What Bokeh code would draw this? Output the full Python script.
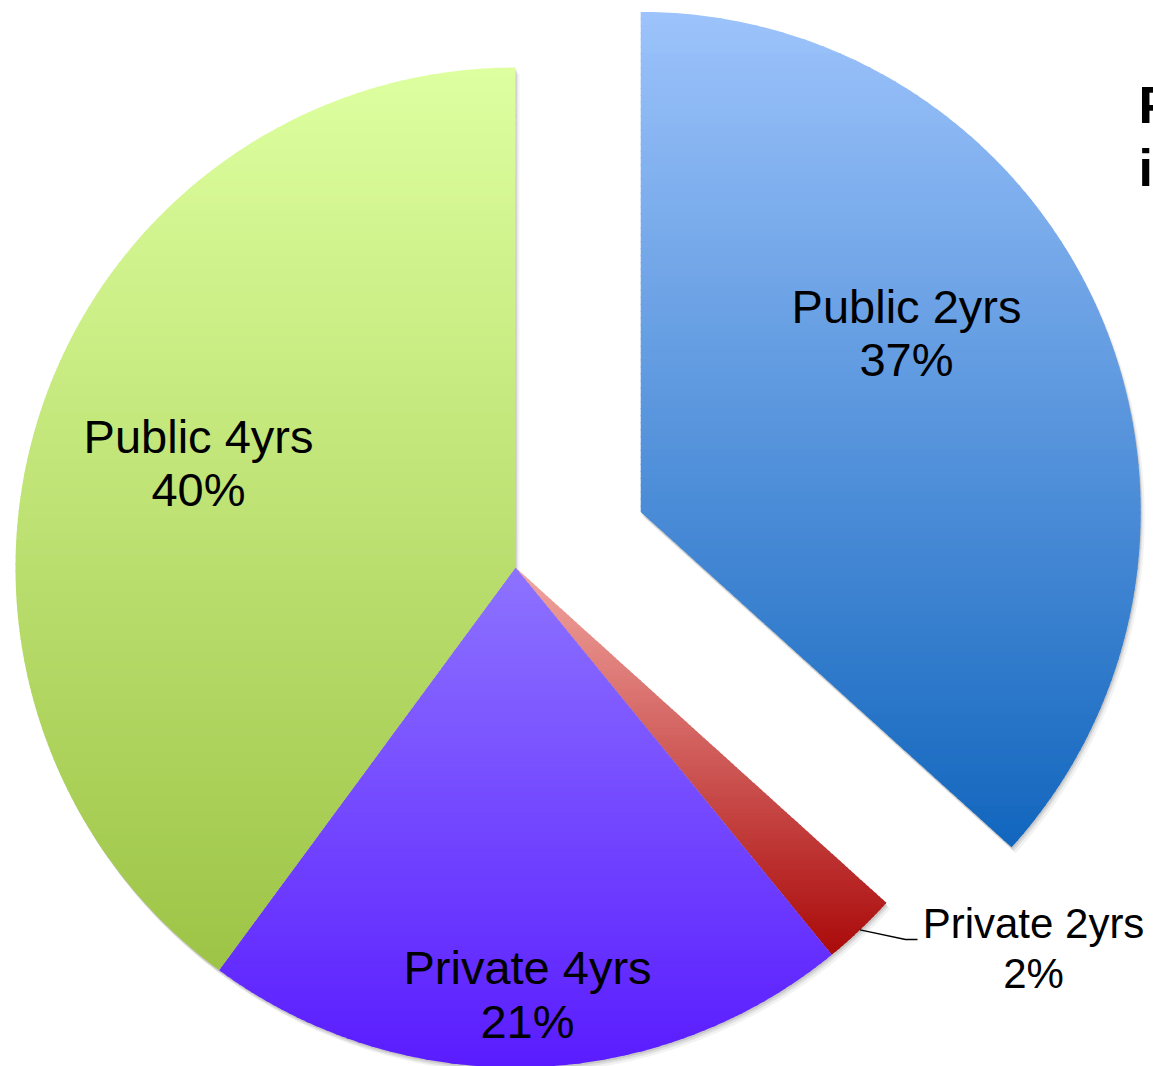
import math
import numpy as np
from bokeh.plotting import figure
from bokeh.models import Range1d
from bokeh.core.properties import value
from bokeh.embed import file_html
from bokeh.resources import INLINE

# ---- data (clockwise from 12 o'clock) ----
categories = ["Public 2yrs", "Private 2yrs", "Private 4yrs", "Public 4yrs"]
shares = [36.7, 2.4, 21.0, 39.9]
pct_labels = ["37%", "2%", "21%", "40%"]
explode = [137, 0, 0, 0]
top_colors = ["#9DC3FB", "#F2A7A2", "#8D73FF", "#DEFFA0"]
bottom_colors = ["#1266BE", "#AA0A0A", "#5A1CFF", "#9DC446"]

# ---- layout (pixel units, y up; screen y = H - y) ----
W, H = 1153, 1066
SH = 1066
CX, CY, R = 515, SH - 567, 500
label_font = "Liberation Sans"
label_sizes = [47, 42, 47, 47]
# (x centre, screen y of line-1 cap middle, screen y of line-2 cap middle)
label_pos = [(906, 306, 359), (1033, 923, 973), (527, 967, 1021), (198, 436, 489)]

p = figure(width=W, height=H, output_backend="svg", toolbar_location=None,
           x_range=Range1d(0, W), y_range=Range1d(0, H),
           min_border=0)
p.axis.visible = False
p.grid.visible = False
p.outline_line_color = None
p.background_fill_color = "white"
p.border_fill_color = "white"


def hex2rgb(h):
    h = h.lstrip("#")
    return [int(h[i:i + 2], 16) for i in (0, 2, 4)]


def mix(c1, c2, t):
    a, b = hex2rgb(c1), hex2rgb(c2)
    return "#%02x%02x%02x" % tuple(int(round(a[i] + (b[i] - a[i]) * t)) for i in range(3))


def clip(poly, y0, keep_above):
    out = []
    n = len(poly)
    for i in range(n):
        cur, nxt = poly[i], poly[(i + 1) % n]
        cin = cur[1] >= y0 if keep_above else cur[1] <= y0
        nin = nxt[1] >= y0 if keep_above else nxt[1] <= y0
        if cin:
            out.append(cur)
        if cin != nin:
            t = (y0 - cur[1]) / (nxt[1] - cur[1])
            out.append((cur[0] + t * (nxt[0] - cur[0]), y0))
    return out


total = sum(shares)
angle = 90.0
slices = []
for i, s in enumerate(shares):
    span = s / total * 360.0
    a0, a1 = angle - span, angle
    angle = a0
    mid = math.radians((a0 + a1) / 2)
    cx = CX + explode[i] * math.cos(mid)
    cy = CY + explode[i] * math.sin(mid)
    th = np.radians(np.linspace(a0, a1, 200))
    poly = [(cx, cy)] + [(cx + R * math.cos(t), cy + R * math.sin(t)) for t in th]
    slices.append((poly, mid, cx, cy))

# shadows
for poly, mid, cx, cy in slices:
    for dx, dy, al in [(1, -2, 0.10), (2, -4, 0.08), (4, -6, 0.05)]:
        p.patch([q[0] + dx for q in poly], [q[1] + dy for q in poly],
                fill_color="black", fill_alpha=al, line_color=None)

# gradient-filled slices
for i, (poly, mid, cx, cy) in enumerate(slices):
    ys = [q[1] for q in poly]
    ymin, ymax = min(ys), max(ys)
    nb = 120
    xs_l, ys_l, cols = [], [], []
    for b in range(nb):
        y_hi = ymax - (ymax - ymin) * b / nb
        y_lo = ymax - (ymax - ymin) * (b + 1) / nb
        part = clip(poly, y_lo - 0.6, True)
        part = clip(part, y_hi + 0.6, False) if part else []
        if len(part) < 3:
            continue
        xs_l.append([q[0] for q in part])
        ys_l.append([q[1] for q in part])
        cols.append(mix(top_colors[i], bottom_colors[i], (b + 0.5) / nb))
    p.patches(xs_l, ys_l, fill_color=cols, line_color=None)

# leader line for the small slice
poly, mid, cx, cy = slices[1]
sx, sy = cx + R * math.cos(mid), cy + R * math.sin(mid)
p.line([sx, 905, 917], [sy, SH - 939, SH - 939], line_color="black", line_width=1.3)

# labels
for i in range(len(categories)):
    x, b1, b2 = label_pos[i]
    fs = "%dpx" % label_sizes[i]
    p.text(x=[x], y=[SH - b1], text=[categories[i]], text_align="center",
           text_baseline="middle", text_font=value(label_font),
           text_font_size=fs, text_color="black")
    p.text(x=[x], y=[SH - b2], text=[pct_labels[i]], text_align="center",
           text_baseline="middle", text_font=value(label_font),
           text_font_size=fs, text_color="black")

# cut-off slide title at the right edge
p.text(x=[1138], y=[SH - 104], text=["P"], text_align="left", text_baseline="middle",
       text_font=value(label_font), text_font_style="bold", text_font_size="52px",
       text_color="black")
p.text(x=[1138], y=[SH - 167], text=["i"], text_align="left", text_baseline="middle",
       text_font=value(label_font), text_font_style="bold", text_font_size="52px",
       text_color="black")

open("out.html", "w").write(file_html(p, INLINE))
